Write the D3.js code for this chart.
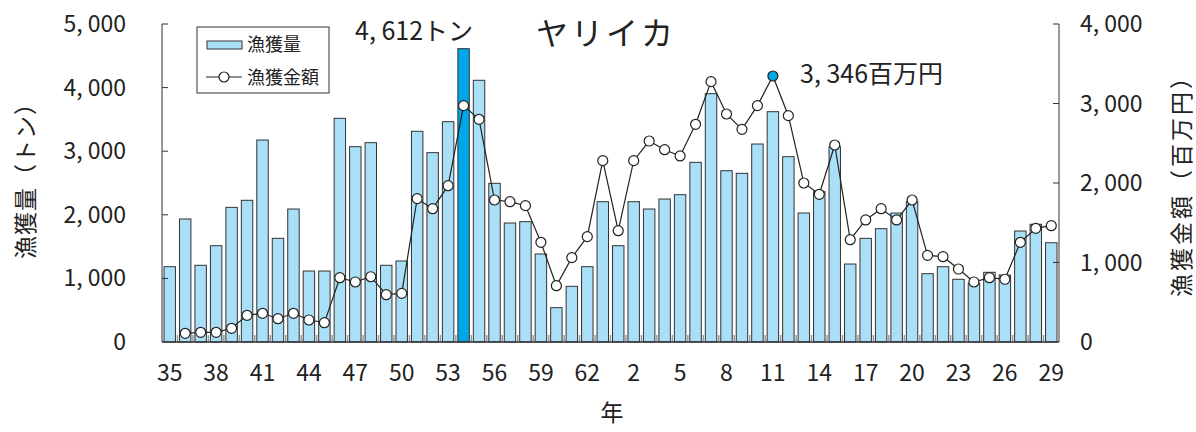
<!DOCTYPE html>
<html><head><meta charset="utf-8">
<script src="https://cdn.jsdelivr.net/npm/d3@7"></script>
<style>
html,body{margin:0;padding:0;background:#fff;}
text{font-family:"Noto Sans CJK JP","Noto Sans",sans-serif;fill:#222;}
</style></head>
<body>
<svg id="chart" width="1196" height="432"></svg>
<script>
const years = ["S35","S36","S37","S38","S39","S40","S41","S42","S43","S44","S45","S46","S47","S48","S49","S50","S51","S52","S53","S54","S55","S56","S57","S58","S59","S60","S61","S62","S63",
"H1","H2","H3","H4","H5","H6","H7","H8","H9","H10","H11","H12","H13","H14","H15","H16","H17","H18","H19","H20","H21","H22","H23","H24","H25","H26","H27","H28","H29"];
const catch_t = [1184,1934,1206,1514,2117,2228,3176,1630,2091,1116,1116,3517,3071,3134,1206,1274,3313,2977,3464,4612,4115,2495,1871,1892,1384,540,876,1184,2206,
1514,2206,2091,2248,2316,2825,3904,2693,2652,3113,3621,2914,2028,2363,3071,1226,1630,1782,2028,2206,1074,1184,986,923,1096,1053,1745,1851,1561];
const value_m = [null,109,122,122,172,336,361,293,361,277,243,809,755,821,595,612,1803,1677,1966,2973,2801,1786,1765,1715,1254,708,1061,1325,2281,
1400,2281,2528,2419,2340,2738,3275,2868,2675,2973,3346,2847,2000,1858,2478,1287,1535,1677,1535,1786,1090,1073,918,755,809,789,1254,1430,1463];
const tickYears = ["S35","S38","S41","S44","S47","S50","S53","S56","S59","S62","H2","H5","H8","H11","H14","H17","H20","H23","H26","H29"];
const tickText = ["35","38","41","44","47","50","53","56","59","62","2","5","8","11","14","17","20","23","26","29"];
const leftTicks = [0,1000,2000,3000,4000,5000];
const rightTicks = [0,1000,2000,3000,4000];
const maxCatchYear = "S54", maxValueYear = "H11";

const svg = d3.select("#chart");
const L = 162, R = 1059, T = 24, B = 342;
const x = d3.scaleBand().domain(years).range([L, R]).paddingInner(0.26).paddingOuter(0.13);
const yL = d3.scaleLinear().domain([0, 5000]).range([B, T]);
const yR = d3.scaleLinear().domain([0, 4000]).range([B, T]);
const fmt = v => d3.format(",")(v).replace(",", ", ");

// bars
svg.append("g").selectAll("rect").data(years).join("rect")
  .attr("x", d => x(d)).attr("width", x.bandwidth())
  .attr("y", (d,i) => yL(catch_t[i])).attr("height", (d,i) => B - yL(catch_t[i]))
  .attr("fill", d => d === maxCatchYear ? "#00a6e6" : "#aadff8")
  .attr("stroke", "#333").attr("stroke-width", 1);

// minor ticks at slot boundaries
const step = x.step();
svg.append("g").selectAll("line").data(years.slice(1)).join("line")
  .attr("x1", d => x(d) - step*x.paddingInner()/2).attr("x2", d => x(d) - step*x.paddingInner()/2)
  .attr("y1", B - 7).attr("y2", B).attr("stroke", "#999").attr("stroke-width", 1.5);

// axes lines
svg.append("line").attr("x1", L).attr("x2", L).attr("y1", T).attr("y2", B).attr("stroke", "#333");
svg.append("line").attr("x1", R).attr("x2", R).attr("y1", T).attr("y2", B).attr("stroke", "#333");
svg.append("line").attr("x1", L).attr("x2", R).attr("y1", B).attr("y2", B).attr("stroke", "#333").attr("stroke-width", 1.5);

// left ticks
svg.append("g").selectAll("line").data(leftTicks.slice(1)).join("line")
  .attr("x1", L).attr("x2", L + 6).attr("y1", d => yL(d)).attr("y2", d => yL(d)).attr("stroke", "#333");
svg.append("g").selectAll("text").data(leftTicks).join("text")
  .attr("x", 126).attr("y", d => yL(d) + 8).attr("text-anchor", "end")
  .attr("font-size", 23).text(d => fmt(d));
// right ticks
svg.append("g").selectAll("line").data(rightTicks.slice(1)).join("line")
  .attr("x1", R - 6).attr("x2", R).attr("y1", d => yR(d)).attr("y2", d => yR(d)).attr("stroke", "#333");
svg.append("g").selectAll("text").data(rightTicks).join("text")
  .attr("x", 1080).attr("y", d => yR(d) + 8).attr("text-anchor", "start")
  .attr("font-size", 23).text(d => fmt(d));

// x tick labels
svg.append("g").selectAll("text").data(tickYears).join("text")
  .attr("x", d => x(d) + x.bandwidth()/2).attr("y", 381).attr("text-anchor", "middle")
  .attr("font-size", 23).text((d,i) => tickText[i]);

// line
const pts = years.map((d,i) => ({d, v: value_m[i]})).filter(p => p.v != null);
svg.append("path").datum(pts)
  .attr("d", d3.line().x(p => x(p.d) + x.bandwidth()/2).y(p => yR(p.v)))
  .attr("fill", "none").attr("stroke", "#222").attr("stroke-width", 1.2);
svg.append("g").selectAll("circle").data(pts).join("circle")
  .attr("cx", p => x(p.d) + x.bandwidth()/2).attr("cy", p => yR(p.v)).attr("r", 5)
  .attr("fill", p => p.d === maxValueYear ? "#00a6e6" : "#fff")
  .attr("stroke", "#222").attr("stroke-width", 1.2);

// titles
svg.append("text").attr("transform", "translate(34,175) rotate(-90)").attr("text-anchor", "middle")
  .attr("font-size", 23).attr("letter-spacing", 1).text("漁獲量（トン）");
svg.append("text").attr("transform", "translate(1190,180) rotate(-90)").attr("text-anchor", "middle")
  .attr("font-size", 23).attr("letter-spacing", 3).text("漁獲金額（百万円）");
svg.append("text").attr("x", 612).attr("y", 421).attr("text-anchor", "middle").attr("font-size", 23).text("年");
svg.append("text").attr("x", 606).attr("y", 45).attr("text-anchor", "middle").attr("font-size", 32).attr("letter-spacing", 3).text("ヤリイカ");

// annotations
const iMaxC = years.indexOf(maxCatchYear), iMaxV = years.indexOf(maxValueYear);
svg.append("text").attr("x", 355).attr("y", 40).attr("font-size", 25).text(fmt(catch_t[iMaxC]) + "トン");
svg.append("text").attr("x", 800).attr("y", 83).attr("font-size", 25).text(fmt(value_m[iMaxV]) + "百万円");

// legend
const lg = svg.append("g");
lg.append("rect").attr("x", 197).attr("y", 27).attr("width", 132).attr("height", 66).attr("fill", "#fff").attr("stroke", "#333");
lg.append("rect").attr("x", 207).attr("y", 41).attr("width", 35).attr("height", 8).attr("fill", "#aadff8").attr("stroke", "#333");
lg.append("text").attr("x", 247).attr("y", 51).attr("font-size", 18).text("漁獲量");
lg.append("line").attr("x1", 206).attr("x2", 242).attr("y1", 77).attr("y2", 77).attr("stroke", "#222").attr("stroke-width", 1.2);
lg.append("circle").attr("cx", 224).attr("cy", 77).attr("r", 5).attr("fill", "#fff").attr("stroke", "#222").attr("stroke-width", 1.2);
lg.append("text").attr("x", 247).attr("y", 84).attr("font-size", 18).text("漁獲金額");
</script>
</body></html>
